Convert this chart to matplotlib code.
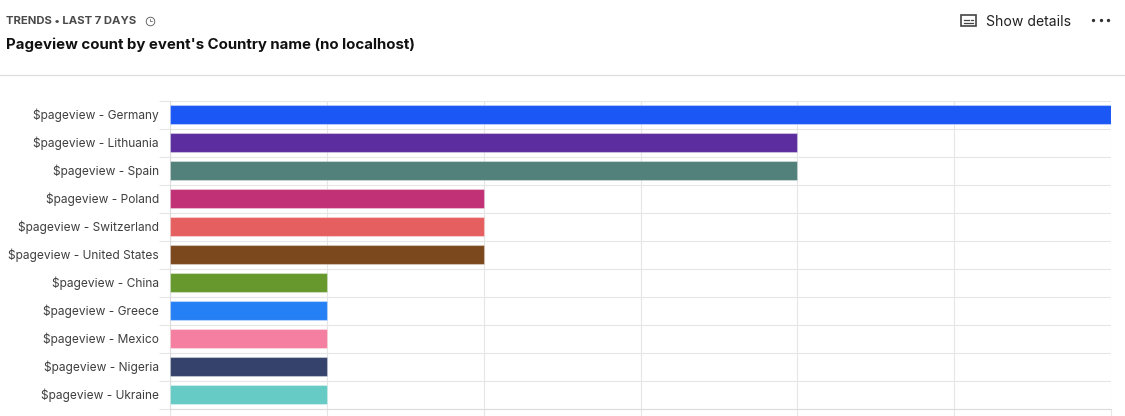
import numpy as np
from matplotlib import pyplot as plt
from matplotlib.lines import Line2D
from matplotlib.patches import Rectangle
from matplotlib.transforms import ScaledTranslation

plt.rcParams['font.family'] = ['Inter', 'DejaVu Sans']

countries = ["Germany", "Lithuania", "Spain", "Poland", "Switzerland", "United States",
             "China", "Greece", "Mexico", "Nigeria", "Ukraine"]
pageviews = [6, 4, 4, 2, 2, 2, 1, 1, 1, 1, 1]
bar_colors = ["#1a57f5", "#5c2d9e", "#52807a", "#c03175", "#e65f60", "#7a481c",
              "#66982e", "#2680f5", "#f57fa0", "#35426b", "#66cbc4"]
labels = [f"$pageview - {c}" for c in countries]
W, H = 1125, 416

fig = plt.figure(figsize=(W / 100, H / 100), dpi=100)
ax = fig.add_axes([170 / W, 1 - 408.5 / H, 941 / W, 308 / H])


def px_text(x, y, s, **kw):
    fig.text(x / W, 1 - y / H, s, va="center", **kw)


def px_line(xs, ys, **kw):
    fig.add_artist(Line2D([x / W for x in xs], [1 - v / H for v in ys], **kw))


y = np.arange(len(labels))
ax.barh(y, pageviews, height=0.71, color=bar_colors, edgecolor="#ffffff55", linewidth=0.8, zorder=3)
ax.set_xlim(0, 6)
ax.set_ylim(len(labels) - 0.5, -0.5)
ax.set_xticks(range(7))
ax.set_yticks(y)
ax.set_yticks(np.arange(-0.5, len(labels)), minor=True)
ax.set_xticklabels([])
ax.set_yticklabels(labels, fontsize=8.6, color="#3f3f3f")
ax.grid(True, axis="x", color="#e6e6e6", linewidth=0.8, zorder=0)
ax.grid(True, axis="y", which="minor", color="#e6e6e6", linewidth=0.8, zorder=0)
ax.tick_params(axis="y", which="major", length=0, pad=8)
ax.tick_params(axis="y", which="minor", length=8, color="#e6e6e6", width=0.8)
ax.tick_params(axis="x", length=8, color="#e6e6e6", width=0.8)
# nudge the labels up by a pixel
for tick in ax.get_yticklabels():
    tick.set_transform(tick.get_transform() + ScaledTranslation(0, 1 / 100, fig.dpi_scale_trans))
ax.set_axisbelow(True)
for name, spine in ax.spines.items():
    spine.set_visible(name in ("left", "bottom"))
    spine.set_color("#dcdcdc")
    spine.set_linewidth(0.8)

# card header
px_text(6, 20.5, "TRENDS • LAST 7 DAYS", fontsize=8.15, fontweight="bold", color="#4a4a4a")
px_text(6, 45, "Pageview count by event's Country name (no localhost)", fontsize=10.8,
        fontweight="bold", color="#111111")
px_text(986, 21.5, "Show details", fontsize=10.1, color="#222222")
px_line([0, W], [74.5, 74.5], color="#dedede", linewidth=0.9)

# clock icon next to the subtitle
px_line([149.5], [20.5], marker="o", markersize=6.2, markerfacecolor="none", markeredgecolor="#555555",
        markeredgewidth=0.6, linestyle="none")
px_line([149.5, 149.5, 151.5], [18.5, 21, 21], color="#555555", linewidth=0.5)
# details icon
fig.add_artist(Rectangle((960.5 / W, 1 - 26 / H), 15 / W, 11.5 / H, transform=fig.transFigure, fill=False,
                         edgecolor="#444444", linewidth=1.2))
for x0, x1, yy in [(963.5, 969, 19.5), (971, 973, 19.5), (963.5, 965.5, 22.5), (967, 973, 22.5)]:
    px_line([x0, x1], [yy, yy], color="#444444", linewidth=0.9)
# menu dots
for xd in [1093, 1100.5, 1108]:
    px_line([xd], [20], marker="o", markersize=1.4, color="#333333", linestyle="none")

fig.savefig("out.png", dpi=100)
